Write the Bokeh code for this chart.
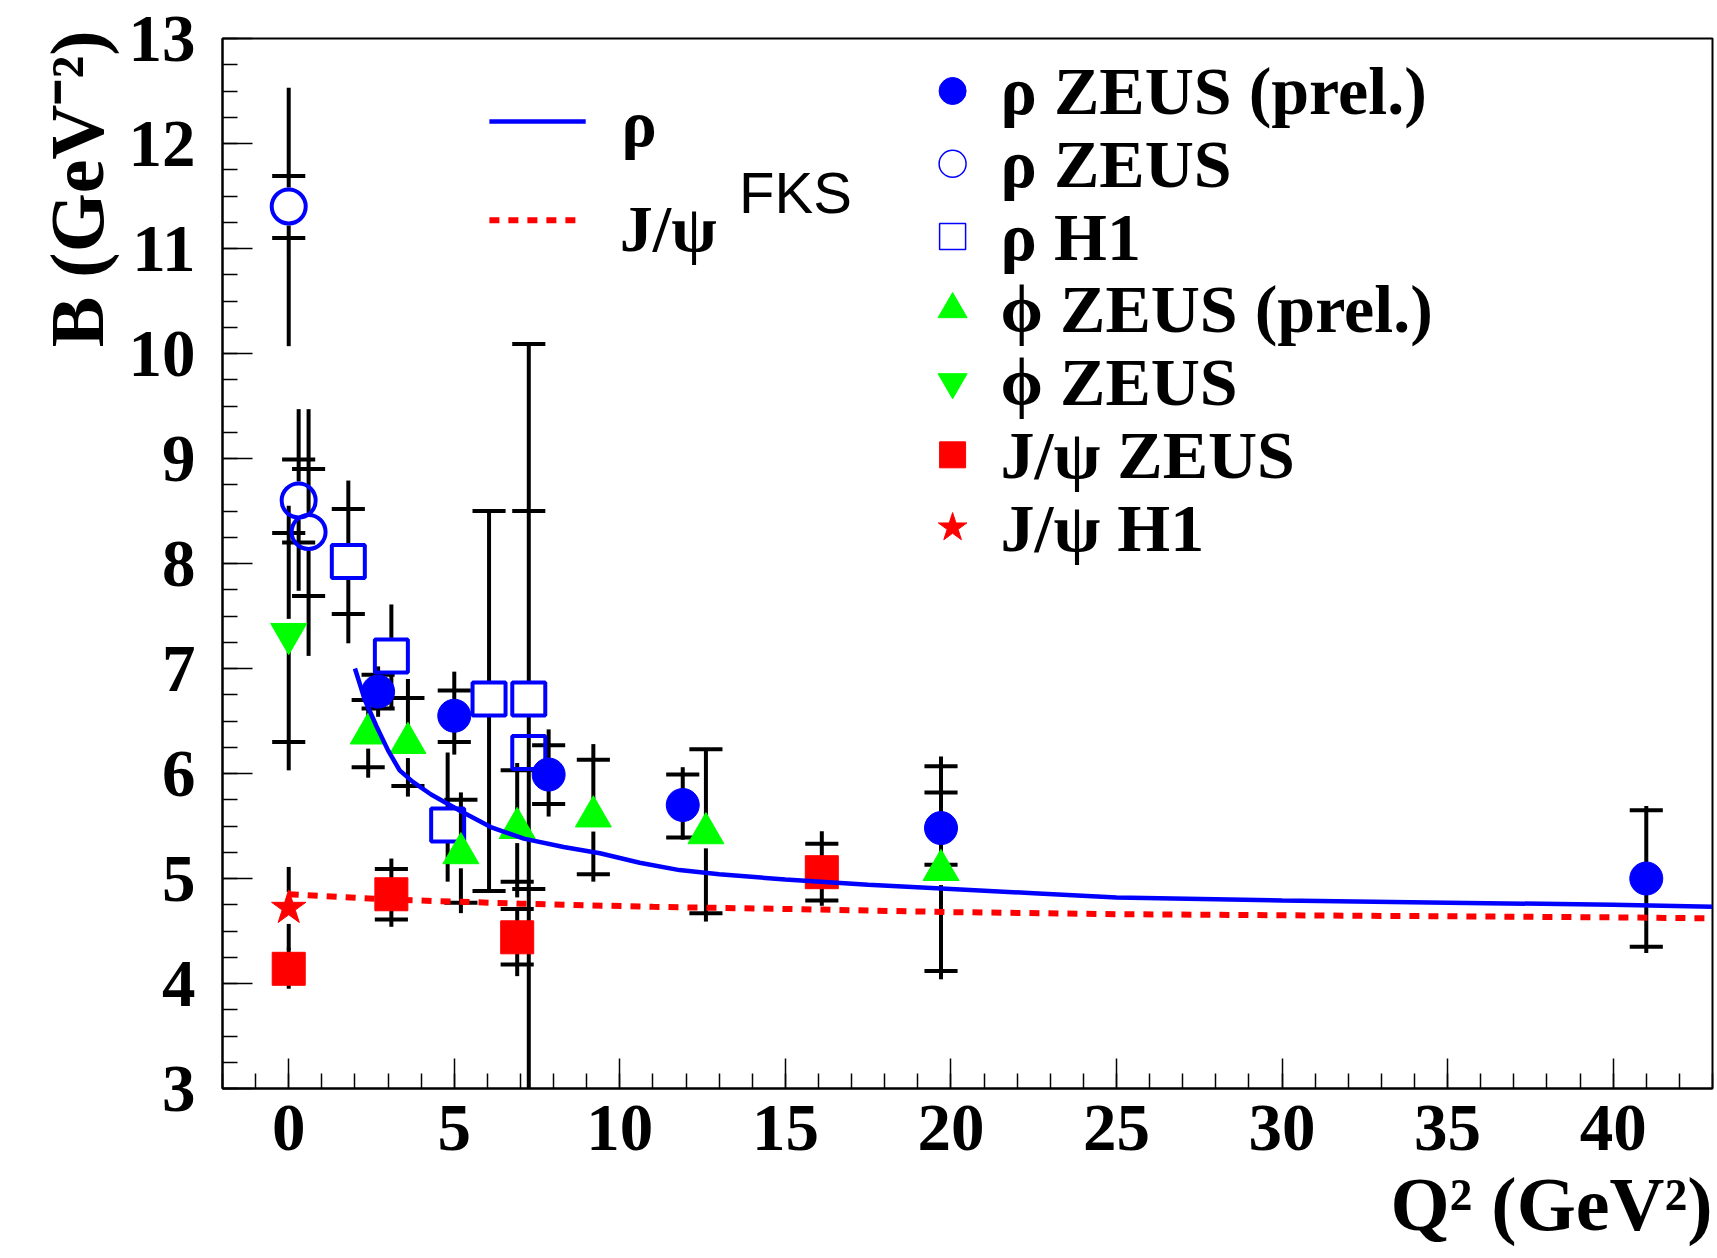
from bokeh.plotting import figure
from bokeh.models import Range1d, SingleIntervalTicker, Label, Title
from bokeh.embed import file_html
from bokeh.resources import INLINE

# ---------------- data ----------------
# rho ZEUS (prel.)  -- filled blue circles
rzp_x = [2.7, 5.0, 7.85, 11.9, 19.7, 41.0]
rzp_y = [6.78, 6.55, 5.99, 5.70, 5.48, 5.00]
rzp_stat_up = [0.16, 0.24, 0.28, 0.29, 0.34, 0.65]
rzp_stat_dn = [0.16, 0.25, 0.28, 0.31, 0.35, 0.65]
rzp_tot_up = [0.24, 0.42, 0.43, 0.36, 0.68, 0.69]
rzp_tot_dn = [0.24, 0.37, 0.40, 0.33, 0.45, 0.71]

# rho ZEUS -- open blue circles
rz_x = [0.0, 0.3, 0.6]
rz_y = [11.40, 8.60, 8.30]
rz_stat_up = [0.29, 0.39, 0.60]
rz_stat_dn = [0.30, 0.40, 0.61]
rz_tot_up = [1.13, 0.87, 1.17]
rz_tot_dn = [1.33, 0.86, 1.18]

# rho H1 -- open blue squares
rh_x = [1.8, 3.1, 4.8, 6.05, 7.25, 7.25]
rh_y = [8.02, 7.12, 5.51, 6.71, 6.71, 6.20]
rh_stat_up = [0.50, None, None, 1.79, 1.79, None]
rh_stat_dn = [0.50, None, None, 1.83, 1.81, None]
rh_tot_up = [0.77, 0.49, 0.69, 1.79, 3.38, 0.0]
rh_tot_dn = [0.78, 0.50, 0.54, 1.83, 5.00, 0.0]
rh_cap_ends = [False, False, False, False, True, False]

# phi ZEUS (prel.) -- green triangles
pzp_x = [2.4, 3.6, 5.2, 6.9, 9.2, 12.6, 19.7]
pzp_y = [6.38, 6.29, 5.24, 5.48, 5.59, 5.43, 5.08]
pzp_stat_up = [0.32, 0.43, 0.51, 0.55, 0.54, 0.80, 0.99]
pzp_stat_dn = [0.32, 0.41, 0.47, 0.51, 0.55, 0.76, 0.96]
pzp_tot_up = [0.41, 0.61, 0.58, 0.62, 0.69, 0.80, 1.08]
pzp_tot_dn = [0.42, 0.51, 0.57, 0.66, 0.62, 0.84, 1.04]

# phi ZEUS -- green inverted triangle
pz_x = [0.0]
pz_y = [7.33]
pz_stat_up = [0.96]
pz_stat_dn = [1.03]
pz_tot_up = [1.22]
pz_tot_dn = [1.30]

# J/psi ZEUS -- red squares
jz_x = [0.0, 3.1, 6.9, 16.1]
jz_y = [4.14, 4.85, 4.44, 5.06]
jz_stat_up = [None, 0.24, 0.27, 0.27]
jz_stat_dn = [None, 0.24, 0.26, 0.27]
jz_tot_up = [0.20, 0.34, 0.27, 0.39]
jz_tot_dn = [0.19, 0.31, 0.37, 0.32]

# J/psi H1 -- red star
jh_x = [0.0]
jh_y = [4.72]
jh_stat_up = [None]
jh_stat_dn = [None]
jh_tot_up = [0.39]
jh_tot_dn = [0.40]

# FKS predictions
fks_rho_x = [2.0, 2.3, 2.65, 3.0, 3.35, 3.75, 4.3, 5.2, 6.1, 7.1, 8.3, 9.4, 10.6,
             11.8, 13.0, 15.0, 17.5, 20.0, 22.5, 25.0, 30.0, 35.0, 40.0, 43.0]
fks_rho_y = [7.00, 6.70, 6.45, 6.22, 6.03, 5.92, 5.80, 5.64, 5.49, 5.38, 5.30, 5.24, 5.15,
             5.08, 5.04, 4.99, 4.94, 4.90, 4.86, 4.82, 4.79, 4.77, 4.75, 4.73]
fks_jpsi_x = [0.0, 3.0, 7.0, 11.0, 15.0, 20.0, 25.0, 30.0, 35.0, 40.0, 43.0]
fks_jpsi_y = [4.85, 4.80, 4.76, 4.73, 4.71, 4.68, 4.66, 4.65, 4.64, 4.63, 4.62]

x_ticks_interval = 5
y_ticks_interval = 1

legend_labels = ["ρ ZEUS (prel.)", "ρ ZEUS", "ρ H1", "ϕ ZEUS (prel.)", "ϕ ZEUS",
                 "J/ψ ZEUS", "J/ψ H1"]
y_title = "B (GeV⁻²)"
x_title = "Q² (GeV²)"

# ---------------- layout ----------------
W, H = 1714, 1258
ML, MR, MT, MB = 222, 2, 38, 170
XMIN, XMAX, YMIN, YMAX = -2, 43, 3, 13
PXY = (H - MT - MB) / (YMAX - YMIN)

BLUE, GREEN, RED = "#0000ff", "#00ff00", "#ff0000"
SERIF = "Liberation Serif"

p = figure(width=W, height=H, output_backend="svg", toolbar_location=None,
           x_range=Range1d(XMIN, XMAX), y_range=Range1d(YMIN, YMAX),
           min_border_left=ML, min_border_right=MR, min_border_top=MT,
           min_border_bottom=MB, background_fill_color="white",
           border_fill_color="white")
p.grid.visible = False
p.outline_line_color = "black"
p.outline_line_width = 2

for ax, tick in ((p.xaxis, SingleIntervalTicker(interval=x_ticks_interval, num_minor_ticks=5)),
                 (p.yaxis, SingleIntervalTicker(interval=y_ticks_interval, num_minor_ticks=4))):
    ax.ticker = tick
    ax.axis_line_color = "black"
    ax.axis_line_width = 2
    ax.major_tick_in = 30
    ax.major_tick_out = 0
    ax.minor_tick_in = 15
    ax.minor_tick_out = 0
    ax.major_tick_line_width = 1.5
    ax.minor_tick_line_width = 1.5
    ax.major_tick_line_color = "black"
    ax.minor_tick_line_color = "black"
    ax.major_label_text_font = SERIF
    ax.major_label_text_font_style = "bold"
    ax.major_label_text_font_size = "67px"
    ax.major_label_text_color = "black"
p.yaxis.major_label_standoff = 27
p.xaxis.major_label_standoff = 17

# axis titles
p.add_layout(Title(text=y_title, align="right", text_font=SERIF, text_font_style="bold",
                   text_font_size="76px", text_color="black", standoff=13, offset=-8), "left")
p.add_layout(Title(text=x_title, align="right", text_font=SERIF, text_font_style="bold",
                   text_font_size="76px", text_color="black", standoff=15), "below")

TICK_HALF = 0.5  # half width of the error bar ticks, in x units


def draw_errors(xs, ys, su, sd, tu, td, gap_px, caps=None):
    gap = gap_px / PXY
    vx0, vy0, vx1, vy1 = [], [], [], []
    hx0, hy0, hx1, hy1 = [], [], [], []
    for i, (x, y, a, b, c, d) in enumerate(zip(xs, ys, su, sd, tu, td)):
        if c is not None and c > gap:
            vx0.append(x); vy0.append(y + gap); vx1.append(x); vy1.append(y + c)
        if d is not None and d > gap:
            vx0.append(x); vy0.append(y - gap); vx1.append(x); vy1.append(y - d)
        ticks = []
        if a is not None:
            ticks.append(y + a)
        if b is not None:
            ticks.append(y - b)
        if caps is not None and caps[i]:
            ticks.append(y + c)
        for t in ticks:
            hx0.append(x - TICK_HALF); hx1.append(x + TICK_HALF)
            hy0.append(t); hy1.append(t)
    p.segment(vx0, vy0, vx1, vy1, line_color="black", line_width=4)
    p.segment(hx0, hy0, hx1, hy1, line_color="black", line_width=4)


draw_errors(rzp_x, rzp_y, rzp_stat_up, rzp_stat_dn, rzp_tot_up, rzp_tot_dn, 16)
draw_errors(rz_x, rz_y, rz_stat_up, rz_stat_dn, rz_tot_up, rz_tot_dn, 19)
draw_errors(rh_x, rh_y, rh_stat_up, rh_stat_dn, rh_tot_up, rh_tot_dn, 18, rh_cap_ends)
draw_errors(pzp_x, pzp_y, pzp_stat_up, pzp_stat_dn, pzp_tot_up, pzp_tot_dn, 15)
draw_errors(pz_x, pz_y, pz_stat_up, pz_stat_dn, pz_tot_up, pz_tot_dn, 15)
draw_errors(jz_x, jz_y, jz_stat_up, jz_stat_dn, jz_tot_up, jz_tot_dn, 16)
draw_errors(jh_x, jh_y, jh_stat_up, jh_stat_dn, jh_tot_up, jh_tot_dn, 16)

# markers
p.scatter(rzp_x, rzp_y, marker="circle", size=33, fill_color=BLUE, line_color=BLUE)
p.scatter(rz_x, rz_y, marker="circle", size=34, fill_color=None, line_color=BLUE, line_width=4)
p.scatter(rh_x, rh_y, marker="square", size=33, fill_color=None, line_color=BLUE, line_width=4)
p.scatter(pzp_x, pzp_y, marker="triangle", size=36, fill_color=GREEN, line_color=GREEN)
p.scatter(pz_x, pz_y, marker="inverted_triangle", size=36, fill_color=GREEN, line_color=GREEN)
p.scatter(jz_x, jz_y, marker="square", size=33, fill_color=RED, line_color=RED)
p.scatter(jh_x, jh_y, marker="star", size=36, fill_color=RED, line_color=RED)

# FKS curves
DASH = "10 9"
p.line(fks_rho_x, fks_rho_y, line_color=BLUE, line_width=4.5)
p.line(fks_jpsi_x, fks_jpsi_y, line_color=RED, line_width=6, line_dash=DASH)

# ---------------- legends ----------------
LEG_MX, LEG_TX, LEG_Y0, LEG_DY = 20.05, 21.5, 12.50, 0.693
leg_y = [LEG_Y0 - i * LEG_DY for i in range(len(legend_labels))]
leg_style = [
    dict(marker="circle", size=27, fill_color=BLUE, line_color=BLUE, line_width=1),
    dict(marker="circle", size=27, fill_color=None, line_color=BLUE, line_width=1.5),
    dict(marker="square", size=26, fill_color=None, line_color=BLUE, line_width=1.5),
    dict(marker="triangle", size=29, fill_color=GREEN, line_color=GREEN, line_width=1),
    dict(marker="inverted_triangle", size=29, fill_color=GREEN, line_color=GREEN, line_width=1),
    dict(marker="square", size=26, fill_color=RED, line_color=RED, line_width=1),
    dict(marker="star", size=30, fill_color=RED, line_color=RED, line_width=1),
]


def text_label(x, y, txt, size, font=SERIF, style="bold"):
    p.add_layout(Label(x=x, y=y, text=txt, text_font=font, text_font_style=style,
                       text_font_size=f"{size}px", text_align="left",
                       text_baseline="middle", text_color="black"))


for yy, lab, st in zip(leg_y, legend_labels, leg_style):
    p.scatter([LEG_MX], [yy], **st)
    text_label(LEG_TX, yy, lab, 68)

# FKS legend
p.line([6.06, 8.97], [12.21, 12.21], line_color=BLUE, line_width=4.5)
p.line([6.06, 8.85], [11.27, 11.27], line_color=RED, line_width=6, line_dash=DASH)
text_label(10.05, 12.19, "ρ", 66)
text_label(10.0, 11.19, "J/ψ", 66)
text_label(13.6, 11.53, "FKS", 58, font="Liberation Sans", style="normal")

open("out.html", "w").write(file_html(p, INLINE))
